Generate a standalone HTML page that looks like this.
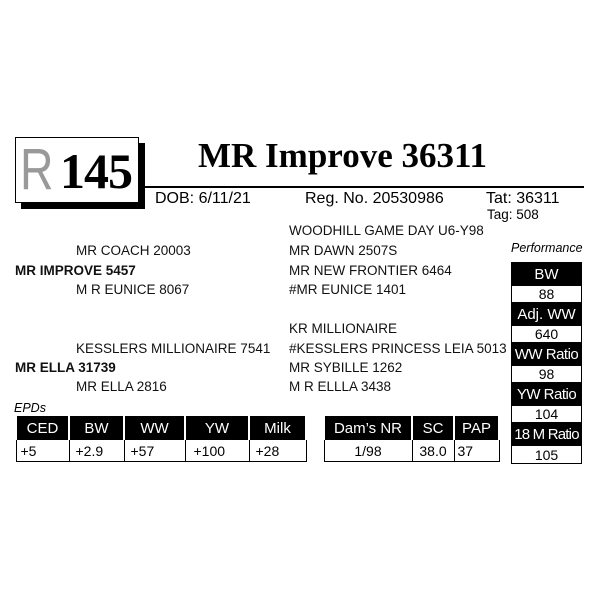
<!DOCTYPE html>
<html><head><style>
body{margin:0;width:600px;height:600px;background:#fff;position:relative;font-family:"Liberation Sans",Arial,sans-serif;overflow:hidden}
.a{position:absolute;white-space:nowrap}
.t{font-size:13.5px;color:#111}
.b{font-weight:bold}
table{border-collapse:collapse;position:absolute}
td{border:1px solid #000;text-align:center;padding:0;font-size:14px}
.h td{background:#000;color:#fff;font-size:15px;border-left:2px solid #fff;border-right:2px solid #fff}
.p .h td{border-left:1px solid #000;border-right:1px solid #000}
</style></head><body>
<div class="a" style="left:21px;top:143px;width:124px;height:66px;background:#000"></div>
<div class="a" style="left:15px;top:137px;width:124px;height:66px;background:#fff;border:1.5px solid #000;box-sizing:border-box"></div>
<div class="a" style="left:20px;top:136px;font-size:58px;color:#999;font-family:'Liberation Sans';font-weight:300;transform:scaleX(0.8);transform-origin:left">R</div>
<div class="a" style="left:60px;top:142px;font-size:50px;font-weight:bold;font-family:'Liberation Serif',serif;letter-spacing:-1px">145</div>
<div class="a" style="left:198px;top:136px;font-size:35px;font-weight:bold;font-family:'Liberation Serif',serif">MR Improve 36311</div>
<div class="a" style="left:140px;top:186px;width:444px;height:2px;background:#000"></div>
<div class="a" style="left:155px;top:190px;font-size:16px">DOB: 6/11/21</div>
<div class="a" style="left:305px;top:190px;font-size:16px">Reg. No. 20530986</div>
<div class="a" style="left:486px;top:190px;font-size:16px">Tat: 36311</div>
<div class="a" style="left:487px;top:207px;font-size:13.5px">Tag: 508</div>

<div class="a t" style="left:289px;top:223px">WOODHILL GAME DAY U6-Y98</div>
<div class="a t" style="left:76px;top:243px">MR COACH 20003</div>
<div class="a t" style="left:289px;top:243px">MR DAWN 2507S</div>
<div class="a t b" style="left:15px;top:263px">MR IMPROVE 5457</div>
<div class="a t" style="left:289px;top:263px">MR NEW FRONTIER 6464</div>
<div class="a t" style="left:76px;top:282px">M R EUNICE 8067</div>
<div class="a t" style="left:289px;top:282px">#MR EUNICE 1401</div>

<div class="a t" style="left:289px;top:321px">KR MILLIONAIRE</div>
<div class="a t" style="left:76px;top:341px">KESSLERS MILLIONAIRE 7541</div>
<div class="a t" style="left:289px;top:341px">#KESSLERS PRINCESS LEIA 5013</div>
<div class="a t b" style="left:15px;top:360px">MR ELLA 31739</div>
<div class="a t" style="left:289px;top:360px">MR SYBILLE 1262</div>
<div class="a t" style="left:76px;top:379px">MR ELLA 2816</div>
<div class="a t" style="left:289px;top:379px">M R ELLLA 3438</div>

<div class="a" style="left:511px;top:241px;font-size:12.5px;font-style:italic">Performance</div>
<table class="p" style="left:511px;top:262px;width:71px">
<tr class="h"><td style="height:22px">BW</td></tr><tr><td style="height:14px">88</td></tr>
<tr class="h"><td style="height:22px">Adj. WW</td></tr><tr><td style="height:14px">640</td></tr>
<tr class="h"><td style="height:22px;letter-spacing:-0.5px">WW Ratio</td></tr><tr><td style="height:14px">98</td></tr>
<tr class="h"><td style="height:22px;letter-spacing:-0.5px">YW Ratio</td></tr><tr><td style="height:13px">104</td></tr>
<tr class="h"><td style="height:22px;letter-spacing:-0.8px">18 M Ratio</td></tr><tr><td style="height:17px">105</td></tr>
</table>

<div class="a" style="left:14px;top:401px;font-size:12.5px;font-style:italic">EPDs</div>
<table style="left:15px;top:416px;width:292px">
<tr class="h"><td style="height:22px;width:51px">CED</td><td style="width:53px">BW</td><td style="width:59px">WW</td><td style="width:62px">YW</td><td>Milk</td></tr>
<tr><td style="height:21px;text-align:left;padding-left:4px">+5</td><td style="text-align:left;padding-left:6px">+2.9</td><td style="text-align:left;padding-left:6px">+57</td><td style="text-align:left;padding-left:8px">+100</td><td style="text-align:left;padding-left:6px">+28</td></tr>
</table>
<table style="left:323px;top:416px;width:177px">
<tr class="h"><td style="height:22px;width:86px">Dam’s NR</td><td style="width:40px">SC</td><td>PAP</td></tr>
<tr><td style="height:21px">1/98</td><td>38.0</td><td style="text-align:left;padding-left:3px">37</td></tr>
</table>
</body></html>
